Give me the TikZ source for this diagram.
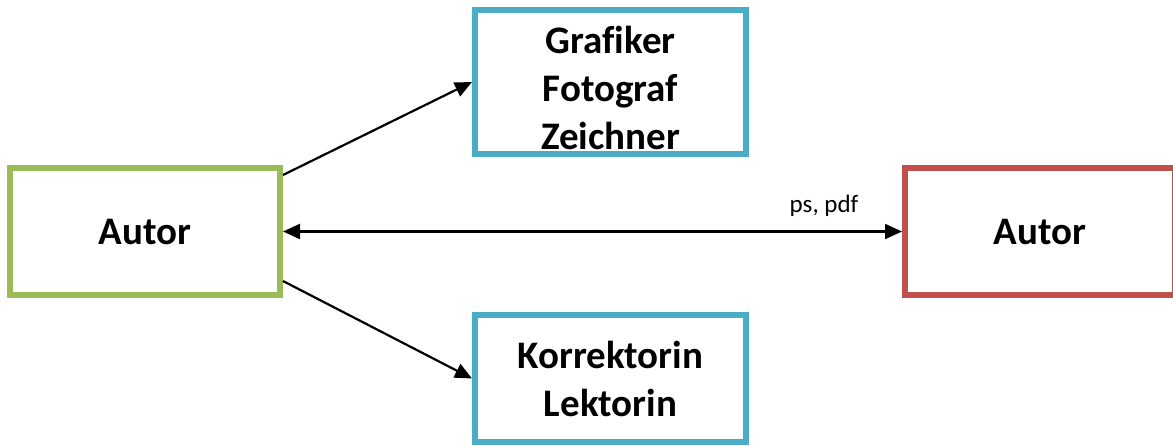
\documentclass[tikz,border=0pt]{standalone}
\usepackage{fontspec}
\setmainfont{Carlito}[Ligatures=CommonOff]
\usetikzlibrary{arrows.meta}
\definecolor{cgreen}{HTML}{9BBB59}
\definecolor{cblue}{HTML}{4BACC6}
\definecolor{cred}{HTML}{C0504D}
\begin{document}
\begin{tikzpicture}[x=1pt,y=-1pt,
  box/.style={draw=#1, line width=6pt, fill=white, inner sep=0pt, align=center,
    font=\fontsize{39}{48}\selectfont\bfseries},
  tip/.style={Triangle[length=17pt,width=15pt]},
  conn/.style={line width=2.2pt, -{Triangle[length=17pt,width=15pt]}},
  lbl/.style={font=\fontsize{25}{30}\selectfont}]
\clip (0,0) rectangle (1173,445);
\useasboundingbox (0,0) rectangle (1173,445);
\node[box=cgreen, minimum width=270pt, minimum height=127pt] (left) at (145,231.5) {Autor};
\node[box=cblue, minimum width=271pt, minimum height=144pt] (top) at (610.5,82) {};
\node[inner sep=0pt, align=center, font=\fontsize{39}{48}\selectfont\bfseries] (toptext) at (610.5,88) {Grafiker\\Fotograf\\Zeichner};
\node[box=cblue, minimum width=271pt, minimum height=127pt] (bottom) at (610.5,378.5) {Korrektorin\\Lektorin};
\node[box=cred, minimum width=270pt, minimum height=127pt] (right) at (1040,231.5) {Autor};
\coordinate (s1) at ([yshift=56.5pt]left.east);
\coordinate (s2) at ([yshift=-49.5pt]left.east);
\draw[conn] (s1) -- (top.west);
\draw[conn] (s2) -- (bottom.west);
\draw[line width=2.2pt, {Triangle[length=17pt,width=15pt]}-{Triangle[length=17pt,width=15pt]}] (left.east) -- (right.west);
\node[lbl] (pspdf) at (824,206) {ps, pdf};
\end{tikzpicture}
\end{document}
